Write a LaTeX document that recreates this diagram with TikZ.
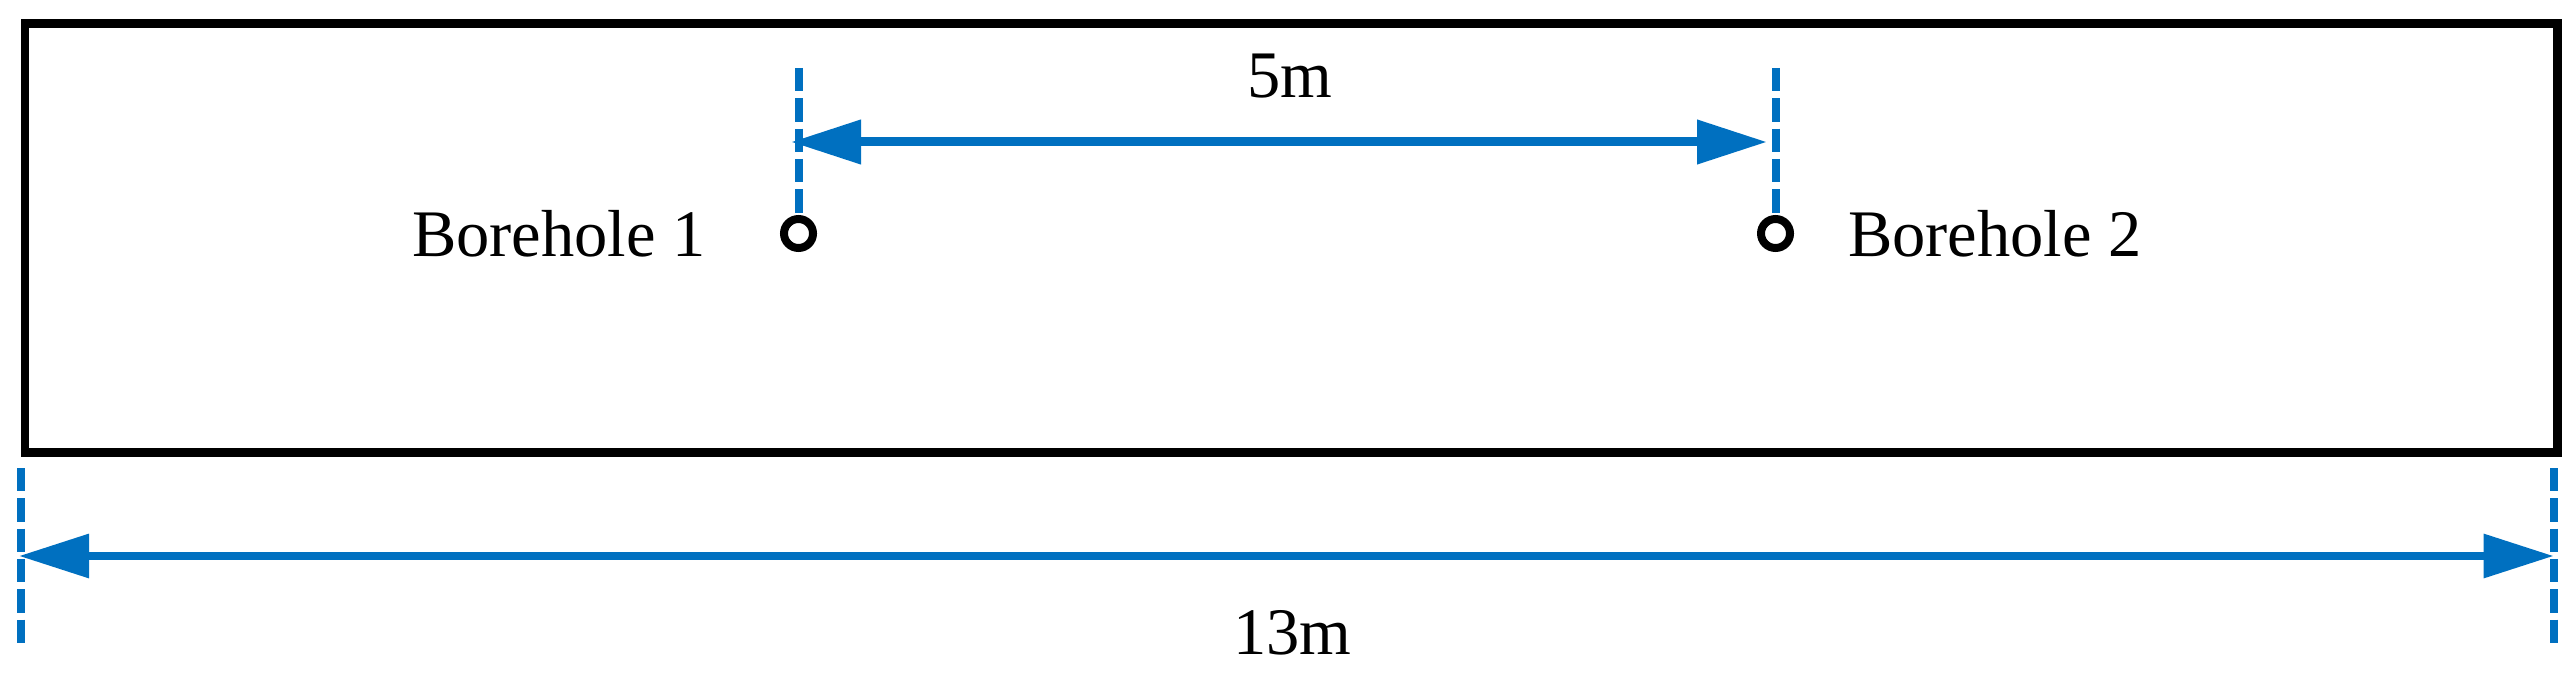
\documentclass[tikz,border=0pt]{standalone}
\usepackage{fontspec}
\setmainfont{Liberation Serif}
\usetikzlibrary{arrows.meta}
\definecolor{dimblue}{HTML}{0070C0}
\begin{document}
\begin{tikzpicture}[x=1pt,y=-1pt,
  frame/.style={draw=black,line width=8.5pt},
  guide/.style={draw=dimblue,line width=8pt,dash pattern=on 23.3pt off 7pt},
  dimarrow/.style={draw=dimblue,line width=9pt,
    {Triangle[length=70pt,width=42.5pt]}-{Triangle[length=70pt,width=42.5pt]}},
  label/.style={font=\fontsize{66.5}{80}\selectfont,inner sep=0pt},
  hole/.style={circle,draw=black,line width=8pt,minimum size=29pt,inner sep=0pt}]
\useasboundingbox (0,0) rectangle (2575,690);
% outer box
\node[frame,rectangle,inner sep=0pt,minimum width=2532.5pt,minimum height=428.5pt,anchor=north west] (box) at (20.5,19.5) {};
% boreholes
\node[hole] (bh1) at (798.5,233.5) {};
\node[hole] (bh2) at (1775.5,233.5) {};
\node[label,anchor=base east] (t1) at (706,256) {Borehole 1};
\node[label,anchor=base west] (t2) at (1848,256) {Borehole 2};
% guides for 5m
\coordinate (g1) at (798.5,68);
\coordinate (g2) at (1775.5,68);
\draw[guide] (g1) -- (bh1.north);
\draw[guide] (g2) -- (bh2.north);
\coordinate (a1) at (791,142);
\coordinate (a2) at (1767,142);
\draw[dimarrow] (a1) -- (a2);
\node[label,anchor=base] (d5) at (1289.5,98) {5m};
% guides for 13m
\coordinate (h1t) at (20.5,468);
\coordinate (h1b) at (20.5,644);
\coordinate (h2t) at (2553.5,468);
\coordinate (h2b) at (2553.5,644);
\draw[guide] (h1t) -- (h1b);
\draw[guide] (h2t) -- (h2b);
\coordinate (b1) at (19,556);
\coordinate (b2) at (2553.6,556);
\draw[dimarrow,line width=8pt] (b1) -- (b2);
\node[label,anchor=base] (d13) at (1292.5,654) {13m};
\end{tikzpicture}
\end{document}
